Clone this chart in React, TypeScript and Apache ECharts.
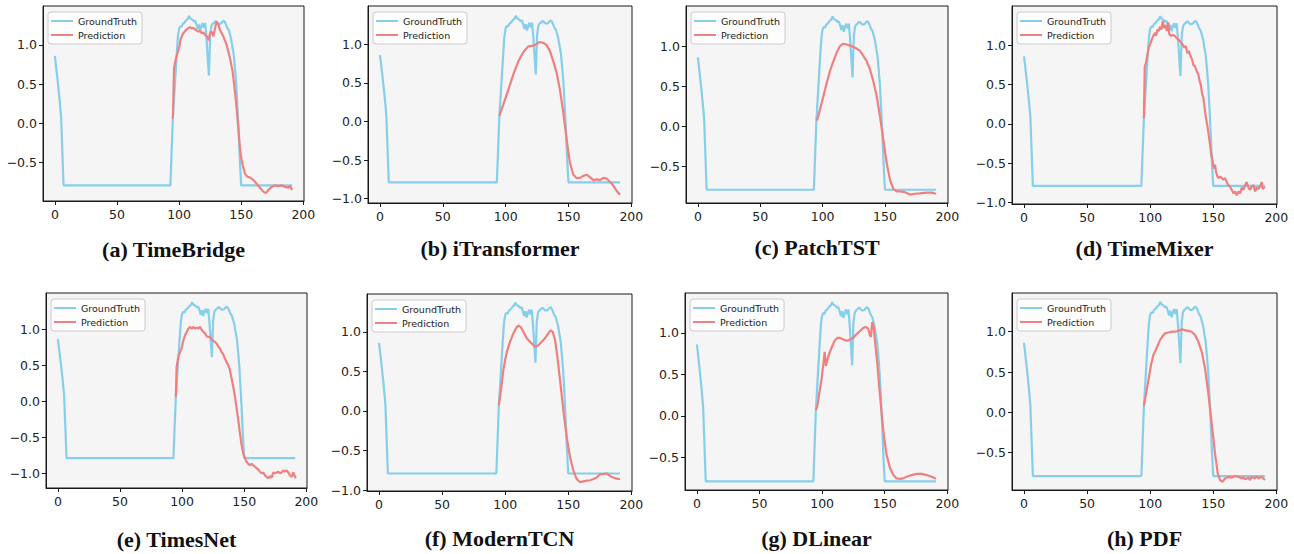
import React, { useEffect, useRef } from "react";
import * as echarts from "echarts";

type Pt = [number, number];

const CAPTIONS = [
  "(a) TimeBridge",
  "(b) iTransformer",
  "(c) PatchTST",
  "(d) TimeMixer",
  "(e) TimesNet",
  "(f) ModernTCN",
  "(g) DLinear",
  "(h) PDF",
];

const X_TICKS = [0, 50, 100, 150, 200];
const Y_TICKS = [-1.0, -0.5, 0.0, 0.5, 1.0];
const X_RANGE: Pt = [-9.55, 200.55];

const Y_RANGES: Pt[] = [
  [-0.99, 1.497],
  [-1.056, 1.497],
  [-0.955, 1.5],
  [-1.02, 1.5],
  [-1.205, 1.5],
  [-1.011, 1.478],
  [-0.895, 1.48],
  [-0.963, 1.48],
];

const GROUND_TRUTH: Pt[] = [
  [0, 0.86], [1, 0.72], [2, 0.58], [3, 0.43], [4, 0.27], [5, 0.09], [6, -0.35], [7, -0.79],
  [93, -0.79], [94, -0.36], [95, 0.07], [96, 0.33], [97, 0.6], [98, 0.86], [99, 1.1],
  [100, 1.21], [101, 1.24], [102, 1.23], [103, 1.27], [104, 1.28], [105, 1.3], [106, 1.32],
  [107, 1.33], [108, 1.37], [109, 1.34], [110, 1.33], [111, 1.32], [112, 1.3], [113, 1.31],
  [114, 1.26], [115, 1.2], [116, 1.26], [117, 1.18], [118, 1.24], [119, 1.28], [120, 1.22],
  [121, 1.28], [122, 1.1], [123, 0.85], [124, 0.61], [125, 1.12], [126, 1.24], [127, 1.27],
  [128, 1.28], [129, 1.3], [130, 1.3], [131, 1.28], [132, 1.27], [133, 1.27], [134, 1.28],
  [135, 1.3], [136, 1.31], [137, 1.29], [138, 1.25], [139, 1.21], [140, 1.19], [141, 1.13],
  [142, 1.07], [143, 0.97], [144, 0.88], [145, 0.7], [146, 0.5], [147, 0.2], [148, -0.12],
  [149, -0.5], [150, -0.79], [191, -0.79],
];

const PRED_TIMEBRIDGE: Pt[] = [
  [95, 0.06], [95.9, 0.7], [97.5, 0.83], [98.6, 0.89], [100.2, 0.98], [101.3, 1.08], [103.4, 1.15],
  [106.1, 1.2], [108.8, 1.23], [110.1, 1.21], [111.5, 1.22], [113.6, 1.19], [115.5, 1.17],
  [116.8, 1.18], [118.2, 1.15], [119.5, 1.16], [120.9, 1.13], [122.2, 1.11], [123.8, 1.06],
  [124.9, 1.15], [126.2, 1.17], [127.6, 1.11], [128.9, 1.21], [130.2, 1.3], [131.6, 1.26],
  [132.9, 1.19], [135.6, 1.11], [138.3, 1.0], [141, 0.83], [143.1, 0.66], [145, 0.4],
  [146.3, 0.19], [147.7, -0.06], [148.5, -0.23], [149.6, -0.4], [151.2, -0.53], [153, -0.64],
  [154.9, -0.68], [157.1, -0.69], [159.8, -0.72], [162.4, -0.77], [165.1, -0.82], [167.8, -0.87],
  [169.9, -0.89], [171.8, -0.85], [174.5, -0.81], [177.2, -0.79], [179.9, -0.8], [182.6, -0.79],
  [185.2, -0.81], [187.9, -0.82], [189.3, -0.8], [191, -0.85],
];

const PRED_ITRANSFORMER: Pt[] = [
  [95, 0.074], [98.1, 0.22], [102.1, 0.41], [106.1, 0.61], [110.1, 0.78], [114.1, 0.9],
  [118, 0.974], [120.7, 0.98], [123.3, 0.99], [126.8, 1.03], [130, 1.02], [132.6, 0.99],
  [135.3, 0.91], [137.9, 0.78], [140.6, 0.63], [143.2, 0.41], [145.9, 0.11], [148.6, -0.24],
  [151.2, -0.54], [153.9, -0.69], [156.6, -0.735], [159.2, -0.73], [161.8, -0.705],
  [164.5, -0.69], [167.1, -0.72], [169.8, -0.76], [172.5, -0.75], [175.1, -0.76],
  [177.8, -0.73], [180.4, -0.74], [183, -0.78], [185.7, -0.83], [188.4, -0.9], [191, -0.95],
];

const PRED_PATCHTST: Pt[] = [
  [95, 0.075], [96, 0.1], [97.9, 0.21], [100.6, 0.375], [103.3, 0.54], [105.9, 0.69],
  [108.6, 0.81], [111.3, 0.92], [113.9, 1.0], [116.6, 1.03], [119.3, 1.02], [123.3, 1.0],
  [127.3, 0.97], [130, 0.94], [132.6, 0.88], [135.4, 0.81], [138, 0.71], [140.7, 0.56],
  [143.4, 0.375], [146, 0.125], [148.7, -0.17], [151.4, -0.46], [154.1, -0.67], [156.7, -0.78],
  [159.4, -0.81], [162.1, -0.81], [166.1, -0.82], [170.1, -0.85], [174.1, -0.84],
  [178.1, -0.835], [183.5, -0.825], [187.5, -0.825], [191, -0.84],
];

const PRED_TIMEMIXER: Pt[] = [
  [95, 0.073], [95.7, 0.73], [96.7, 0.775], [97.8, 0.88], [98.8, 0.97], [99.9, 1.01],
  [101.2, 1.07], [102.5, 1.12], [103.9, 1.16], [104.7, 1.12], [105.7, 1.2], [106.8, 1.18],
  [107.8, 1.24], [108.9, 1.2], [110, 1.31], [111, 1.22], [112.1, 1.26], [113.1, 1.18],
  [114.4, 1.29], [115.2, 1.14], [116.3, 1.12], [117.9, 1.13], [119.5, 1.12], [121, 1.09],
  [122.6, 1.07], [124.2, 1.04], [125.8, 1.01], [127.1, 0.97], [128.2, 0.99], [129.5, 0.9],
  [130.6, 0.93], [132.1, 0.86], [133.2, 0.82], [134.3, 0.75], [135.6, 0.73], [136.9, 0.67],
  [138.2, 0.63], [139, 0.56], [140.1, 0.5], [141.1, 0.39], [142.2, 0.33], [143.2, 0.2],
  [144.3, 0.07], [145.4, -0.03], [146.4, -0.14], [147.5, -0.27], [148.5, -0.4], [149.6, -0.48],
  [150.6, -0.57], [151.4, -0.52], [152.2, -0.61], [153.3, -0.67], [154.3, -0.69], [155.4, -0.67],
  [156.7, -0.69], [158, -0.71], [159.4, -0.69], [160.7, -0.74], [162, -0.78], [163.3, -0.8],
  [164.7, -0.84], [166, -0.885], [167.3, -0.86], [168.6, -0.91], [170, -0.86], [171.3, -0.885],
  [172.6, -0.81], [173.9, -0.84], [175.2, -0.78], [176.5, -0.74], [177.9, -0.81], [179.2, -0.84],
  [180.5, -0.8], [181.8, -0.78], [183.2, -0.86], [184.5, -0.81], [185.8, -0.83], [187.1, -0.8],
  [188.4, -0.74], [189.2, -0.83], [190.3, -0.81], [191, -0.8],
];

const PRED_TIMESNET: Pt[] = [
  [95, 0.06], [95.6, 0.475], [96.9, 0.61], [98.3, 0.68], [99.6, 0.73], [101, 0.84], [102.3, 0.91],
  [103.7, 0.96], [105, 1.005], [106.3, 1.03], [107.7, 1.005], [109, 1.03], [110.4, 1.005],
  [111.7, 1.02], [113, 1.005], [114.4, 1.03], [115.7, 0.99], [117.1, 0.96], [118.4, 0.94],
  [119.8, 0.9], [121.1, 0.89], [122.4, 0.89], [123.8, 0.85], [125.1, 0.84], [126.5, 0.82],
  [127.8, 0.8], [129.1, 0.76], [130.5, 0.73], [131.8, 0.68], [133.2, 0.65], [134.5, 0.59],
  [135.9, 0.54], [137.2, 0.5], [138.5, 0.43], [139.9, 0.31], [141.2, 0.2], [142.6, 0.06],
  [143.9, -0.1], [145.2, -0.26], [146.6, -0.45], [147.9, -0.61], [149.3, -0.73], [150.6, -0.79],
  [151.9, -0.84], [153.3, -0.87], [154.6, -0.89], [156, -0.87], [157.3, -0.89], [158.7, -0.91],
  [160, -0.93], [161.3, -0.95], [162.7, -0.98], [164, -1.0], [165.4, -0.99], [166.7, -1.03],
  [168, -1.05], [169.4, -1.07], [170.7, -1.04], [172.1, -1.06], [173.4, -0.99], [174.8, -1.0],
  [176.1, -0.99], [177.4, -0.98], [178.8, -1.0], [180.1, -0.99], [181.5, -0.96], [182.8, -0.98],
  [184.1, -0.96], [185.5, -0.99], [186.8, -1.03], [188.2, -1.05], [189.5, -0.99], [190.9, -1.05],
  [191.5, -1.07],
];

const PRED_MODERNTCN: Pt[] = [
  [95, 0.072], [95.9, 0.18], [97.3, 0.35], [98.6, 0.52], [99.9, 0.64], [101.7, 0.77], [103.9, 0.876],
  [106.5, 0.98], [108.6, 1.045], [110.4, 1.08], [112.3, 1.06], [114.4, 1.0], [117.1, 0.92],
  [119.7, 0.876], [122.4, 0.83], [124.5, 0.81], [126.3, 0.83], [129, 0.876], [131.6, 0.92],
  [134.2, 0.98], [136.1, 1.02], [137.7, 1.0], [139.5, 0.9], [141.4, 0.685], [143.5, 0.39],
  [146.1, 0.01], [148.8, -0.33], [151.4, -0.58], [154, -0.75], [156.7, -0.86], [159.4, -0.9],
  [162, -0.89], [164.7, -0.88], [167.3, -0.875], [170, -0.86], [172.6, -0.84], [175.2, -0.8],
  [177.9, -0.795], [180.5, -0.79], [183.1, -0.82], [185.8, -0.84], [188.4, -0.855], [191, -0.86],
];

const PRED_DLINEAR: Pt[] = [
  [95, 0.069], [96.1, 0.11], [97.7, 0.27], [99.6, 0.45], [100.9, 0.61], [102, 0.77], [103, 0.6],
  [104.4, 0.69], [106.2, 0.77], [108.4, 0.85], [110.2, 0.91], [112.4, 0.94], [114.2, 0.94],
  [116.9, 0.92], [119.6, 0.905], [122.2, 0.92], [124.9, 0.94], [127.6, 0.985], [130.2, 1.02],
  [132.9, 1.06], [135, 1.07], [136.8, 1.05], [138.2, 0.97], [139, 0.95], [140, 1.13],
  [141.2, 1.07], [142.4, 0.87], [144.1, 0.63], [145.6, 0.35], [147.5, 0.03], [149.4, -0.25],
  [151.5, -0.47], [154.2, -0.63], [156.8, -0.71], [159.5, -0.755], [162.2, -0.76],
  [164.8, -0.755], [167.5, -0.735], [171.5, -0.715], [175.5, -0.7], [179.5, -0.7],
  [183.5, -0.715], [187.5, -0.735], [191, -0.76],
];

const PRED_PDF: Pt[] = [
  [95, 0.078], [96.5, 0.21], [98.6, 0.4], [100.7, 0.59], [102.5, 0.71], [104.4, 0.77], [106, 0.83],
  [107.8, 0.896], [109.7, 0.94], [111.8, 0.98], [114.4, 0.99], [117.1, 1.0], [119.7, 1.0],
  [122.3, 1.01], [125, 1.03], [127.6, 1.02], [130.3, 1.01], [132.9, 1.0], [135.6, 0.96],
  [138.2, 0.875], [140.9, 0.75], [143.5, 0.545], [146.1, 0.235], [148.8, -0.14], [151.4, -0.51],
  [153.6, -0.76], [155.4, -0.84], [157.2, -0.86], [159.4, -0.82], [162, -0.8], [164.6, -0.81],
  [167.3, -0.79], [169.9, -0.8], [172.6, -0.82], [173.9, -0.8], [175.2, -0.83], [177.8, -0.81],
  [179.2, -0.84], [180.5, -0.8], [183.1, -0.82], [184.4, -0.79], [185.8, -0.82], [188.4, -0.8],
  [191, -0.84],
];

const PREDICTIONS: Pt[][] = [
  PRED_TIMEBRIDGE, PRED_ITRANSFORMER, PRED_PATCHTST, PRED_TIMEMIXER,
  PRED_TIMESNET, PRED_MODERNTCN, PRED_DLINEAR, PRED_PDF,
];

// layout (pixels)
const GRIDS = [
  { left: 43, top: 6, width: 261, height: 195 },
  { left: 368, top: 6, width: 264, height: 197 },
  { left: 686, top: 6, width: 262, height: 197 },
  { left: 1012, top: 6, width: 265, height: 198 },
  { left: 46, top: 293, width: 261, height: 195 },
  { left: 367, top: 294, width: 265, height: 197 },
  { left: 685, top: 293, width: 263, height: 197 },
  { left: 1012, top: 293, width: 265, height: 197 },
];
const CAPTION_Y = [249, 248, 247, 248, 539, 538, 538, 538];

const GT_COLOR = "#87CEEB";
const PRED_COLOR = "#F08080";
const TICK_FONT = "'DejaVu Sans', sans-serif";

function fmtY(v: number): string {
  const s = Math.abs(v).toFixed(1);
  return v < 0 ? "\u2212" + s : s;
}

export default function App() {
  const ref = useRef<HTMLDivElement>(null);

  useEffect(() => {
    if (!ref.current) return;
    const chart = echarts.init(ref.current, undefined, { renderer: "svg" });

    const grid = GRIDS.map((g) => ({
      ...g,
      show: true,
      backgroundColor: "#f5f5f5",
      borderColor: "#1a1a1a",
      borderWidth: 1,
      containLabel: false,
    }));

    const xAxis = GRIDS.map((_, i) => ({
      type: "value",
      gridIndex: i,
      min: X_RANGE[0],
      max: X_RANGE[1],
      axisLine: { show: true, onZero: false, lineStyle: { color: "#1a1a1a", width: 1 } },
      splitLine: { show: false },
      axisTick: { show: true, customValues: X_TICKS, length: 4, lineStyle: { color: "#1a1a1a" } },
      axisLabel: {
        customValues: X_TICKS,
        fontSize: 12.5,
        fontFamily: TICK_FONT,
        color: "#222",
        margin: 7,
        formatter: (v: number) => String(Math.round(v)),
      },
    }));

    const yAxis = GRIDS.map((_, i) => {
      const [lo, hi] = Y_RANGES[i];
      const ticks = Y_TICKS.filter((t) => t >= lo && t <= hi);
      return {
        type: "value",
        gridIndex: i,
        min: lo,
        max: hi,
        axisLine: { show: true, onZero: false, lineStyle: { color: "#1a1a1a", width: 1 } },
        splitLine: { show: false },
        axisTick: { show: true, customValues: ticks, length: 4, lineStyle: { color: "#1a1a1a" } },
        axisLabel: {
          customValues: ticks,
          fontSize: 12.5,
          fontFamily: TICK_FONT,
          color: "#222",
          margin: 6,
          formatter: (v: number) => fmtY(v),
        },
      };
    });

    const series: any[] = [];
    GRIDS.forEach((_, i) => {
      series.push({
        type: "line",
        name: "GroundTruth",
        xAxisIndex: i,
        yAxisIndex: i,
        data: GROUND_TRUTH,
        symbol: "none",
        showSymbol: false,
        silent: true,
        lineStyle: { color: GT_COLOR, width: 2.2 },
        itemStyle: { color: GT_COLOR },
      });
      series.push({
        type: "line",
        name: "Prediction",
        xAxisIndex: i,
        yAxisIndex: i,
        data: PREDICTIONS[i],
        symbol: "none",
        showSymbol: false,
        silent: true,
        lineStyle: { color: PRED_COLOR, width: 2.2 },
        itemStyle: { color: PRED_COLOR },
      });
    });

    const legend = GRIDS.map((g) => ({
      left: g.left + 5,
      top: g.top + 6,
      orient: "vertical",
      data: ["GroundTruth", "Prediction"],
      icon: "rect",
      itemWidth: 22,
      itemHeight: 2,
      itemGap: 2,
      padding: [3, 5, 3, 3],
      backgroundColor: "rgba(255,255,255,0.8)",
      borderColor: "#cccccc",
      borderWidth: 1,
      borderRadius: 3,
      selectedMode: false,
      textStyle: { fontSize: 9.5, fontFamily: TICK_FONT, color: "#222", lineHeight: 12 },
    }));

    const graphic = GRIDS.map((g, i) => ({
      type: "text",
      x: g.left + g.width / 2,
      y: CAPTION_Y[i],
      style: {
        text: CAPTIONS[i],
        font: "bold 22px 'Liberation Serif', 'Times New Roman', serif",
        fill: "#111",
        textAlign: "center",
        textVerticalAlign: "middle",
      },
    }));

    chart.setOption({
      animation: false,
      backgroundColor: "#ffffff",
      grid,
      xAxis,
      yAxis,
      legend,
      series,
      graphic,
    } as any);

    return () => chart.dispose();
  }, []);

  return (
    <div
      ref={ref}
      style={{ position: "absolute", left: 0, top: 0, width: 1294, height: 554 }}
    />
  );
}
